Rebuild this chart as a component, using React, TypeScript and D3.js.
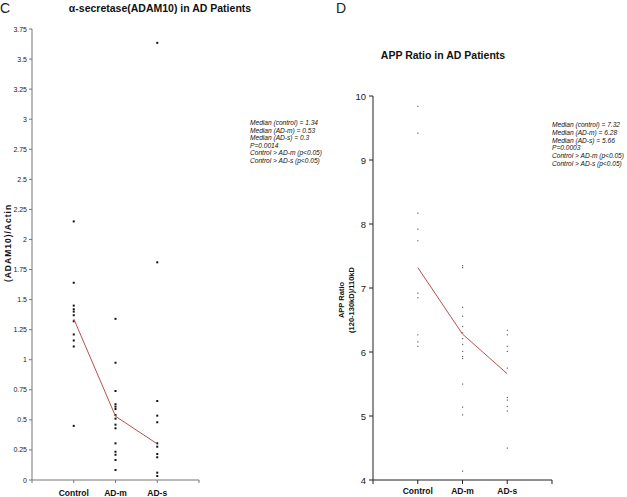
import React from "react";
import * as d3 from "d3";

const categories = ["Control", "AD-m", "AD-s"];

// Panel C: ADAM10 / Actin
const adamControl = [2.15, 1.64, 1.45, 1.42, 1.4, 1.37, 1.32, 1.21, 1.16, 1.11, 0.45];
const adamADm = [1.34, 0.975, 0.74, 0.63, 0.61, 0.59, 0.54, 0.51, 0.46, 0.43, 0.305, 0.235, 0.21, 0.166, 0.083];
const adamADs = [3.635, 1.81, 0.657, 0.535, 0.48, 0.305, 0.277, 0.216, 0.189, 0.061, 0.033];
const adamMedians = [1.34, 0.53, 0.3];
const adamTicks = [0, 0.25, 0.5, 0.75, 1, 1.25, 1.5, 1.75, 2, 2.25, 2.5, 2.75, 3, 3.25, 3.5, 3.75];
const adamNotes = [
  "Median (control) = 1.34",
  "Median (AD-m) = 0.53",
  "Median (AD-s) = 0.3",
  "P=0.0014",
  "Control > AD-m (p<0.05)",
  "Control > AD-s (p<0.05)",
];

// Panel D: APP ratio
const appControl = [9.84, 9.42, 8.17, 7.92, 7.74, 6.92, 6.85, 6.27, 6.16, 6.09];
const appADm = [7.35, 7.32, 6.7, 6.56, 6.4, 6.3, 6.21, 6.12, 6.01, 5.93, 5.9, 5.5, 5.14, 5.02, 4.14];
const appADs = [6.34, 6.27, 6.09, 6.01, 5.75, 5.29, 5.25, 5.15, 5.08, 4.5];
const appMedians = [7.32, 6.28, 5.66];
const appTicks = [4, 5, 6, 7, 8, 9, 10];
const appNotes = [
  "Median (control) = 7.32",
  "Median (AD-m) = 6.28",
  "Median (AD-s) = 5.66",
  "P=0.0003",
  "Control > AD-m (p<0.05)",
  "Control > AD-s (p<0.05)",
];

const FONT = "'Liberation Sans', Arial, sans-serif";
const RED = "#b8504c";

export default function App() {
  // Panel C scales
  const xC = d3.scalePoint<string>().domain(["", ...categories, " "]).range([32, 199]);
  const yC = d3.scaleLinear().domain([0, 3.75]).range([480, 29]);
  // Panel D scales
  const xD = d3.scalePoint<string>().domain(["", ...categories, " "]).range([373, 552]);
  const yD = d3.scaleLinear().domain([4, 10]).range([480, 96]);

  const line = (xs: any, ys: any, meds: number[]) =>
    d3
      .line<number>()
      .x((_, i) => xs(categories[i]) as number)
      .y((d) => ys(d))(meds) as string;

  const adamSeries = [adamControl, adamADm, adamADs];
  const appSeries = [appControl, appADm, appADs];
  const xTickKeys = ["", ...categories, " "];

  return (
    <svg
      width={627}
      height={497}
      style={{ position: "absolute", left: 0, top: 0, background: "#fff" }}
      fontFamily={FONT}
    >
      <rect width={627} height={497} fill="#fff" />
      {/* Panel C */}
      <text x={0} y={13} fontSize={14} fill="#222">C</text>
      <text x={160} y={12} fontSize={10.5} fontWeight="bold" textAnchor="middle" fill="#111">
        α-secretase(ADAM10) in AD Patients
      </text>
      <line x1={32} x2={32} y1={yC(3.75)} y2={yC(0)} stroke="#777" strokeWidth={1} />
      <line x1={32} x2={199} y1={480} y2={480} stroke="#777" strokeWidth={1} />
      {adamTicks.map((t) => (
        <g key={t}>
          <line x1={29} x2={32} y1={yC(t)} y2={yC(t)} stroke="#777" />
          <text x={27} y={yC(t) + 2.5} fontSize={7} textAnchor="end" fill="#222">
            {String(t)}
          </text>
        </g>
      ))}
      {xTickKeys.map((k) => (
        <line key={"xc" + k} x1={xC(k)} x2={xC(k)} y1={480} y2={483} stroke="#777" />
      ))}
      {categories.map((c) => (
        <text key={"lc" + c} x={xC(c)} y={496} fontSize={8.5} fontWeight="bold" textAnchor="middle" fill="#111">
          {c}
        </text>
      ))}
      <text
        transform={`translate(11,243) rotate(-90)`}
        fontSize={8.5}
        fontWeight="bold"
        letterSpacing={1}
        textAnchor="middle"
        fill="#111"
      >
        (ADAM10)/Actin
      </text>
      {adamSeries.map((vals, i) =>
        vals.map((v, j) => (
          <rect
            key={`c${i}-${j}`}
            x={(xC(categories[i]) as number) - 1}
            y={yC(v) - 1}
            width={2}
            height={2}
            fill="#111"
          />
        ))
      )}
      <path d={line(xC, yC, adamMedians)} fill="none" stroke={RED} strokeWidth={1} />
      {adamNotes.map((n, i) => (
        <text key={"nc" + i} x={250} y={125 + i * 7.6} fontSize={6.6} fontStyle="italic" fill="#111">
          {n}
        </text>
      ))}

      {/* Panel D */}
      <text x={336} y={13} fontSize={14} fill="#222">D</text>
      <text x={443} y={59} fontSize={10.5} fontWeight="bold" textAnchor="middle" fill="#111">
        APP Ratio in AD Patients
      </text>
      <line x1={373} x2={373} y1={yD(10)} y2={yD(4)} stroke="#222" strokeWidth={1} />
      <line x1={373} x2={552} y1={480} y2={480} stroke="#222" strokeWidth={1} />
      {appTicks.map((t) => (
        <g key={"td" + t}>
          <line x1={369} x2={373} y1={yD(t)} y2={yD(t)} stroke="#222" />
          <text x={366} y={yD(t) + 3.5} fontSize={9.5} textAnchor="end" fill="#222">
            {String(t)}
          </text>
        </g>
      ))}
      {xTickKeys.map((k) => (
        <line key={"xd" + k} x1={xD(k)} x2={xD(k)} y1={480} y2={484} stroke="#222" />
      ))}
      {categories.map((c) => (
        <text key={"ld" + c} x={xD(c)} y={494} fontSize={8.5} fontWeight="bold" textAnchor="middle" fill="#111">
          {c}
        </text>
      ))}
      <text transform={`translate(344,300) rotate(-90)`} fontSize={7.5} fontWeight="bold" textAnchor="middle" fill="#111">
        APP Ratio
      </text>
      <text transform={`translate(354,300) rotate(-90)`} fontSize={7.5} fontWeight="bold" textAnchor="middle" fill="#111">
        (120-130kD)/110kD
      </text>
      {appSeries.map((vals, i) =>
        vals.map((v, j) => (
          <rect
            key={`d${i}-${j}`}
            x={(xD(categories[i]) as number) - 0.5}
            y={yD(v) - 0.5}
            width={1.2}
            height={1.2}
            fill="#666"
          />
        ))
      )}
      <path d={line(xD, yD, appMedians)} fill="none" stroke={RED} strokeWidth={1} />
      {appNotes.map((n, i) => (
        <text key={"nd" + i} x={552} y={127 + i * 7.8} fontSize={6.6} fontStyle="italic" fill="#111">
          {n}
        </text>
      ))}
    </svg>
  );
}
